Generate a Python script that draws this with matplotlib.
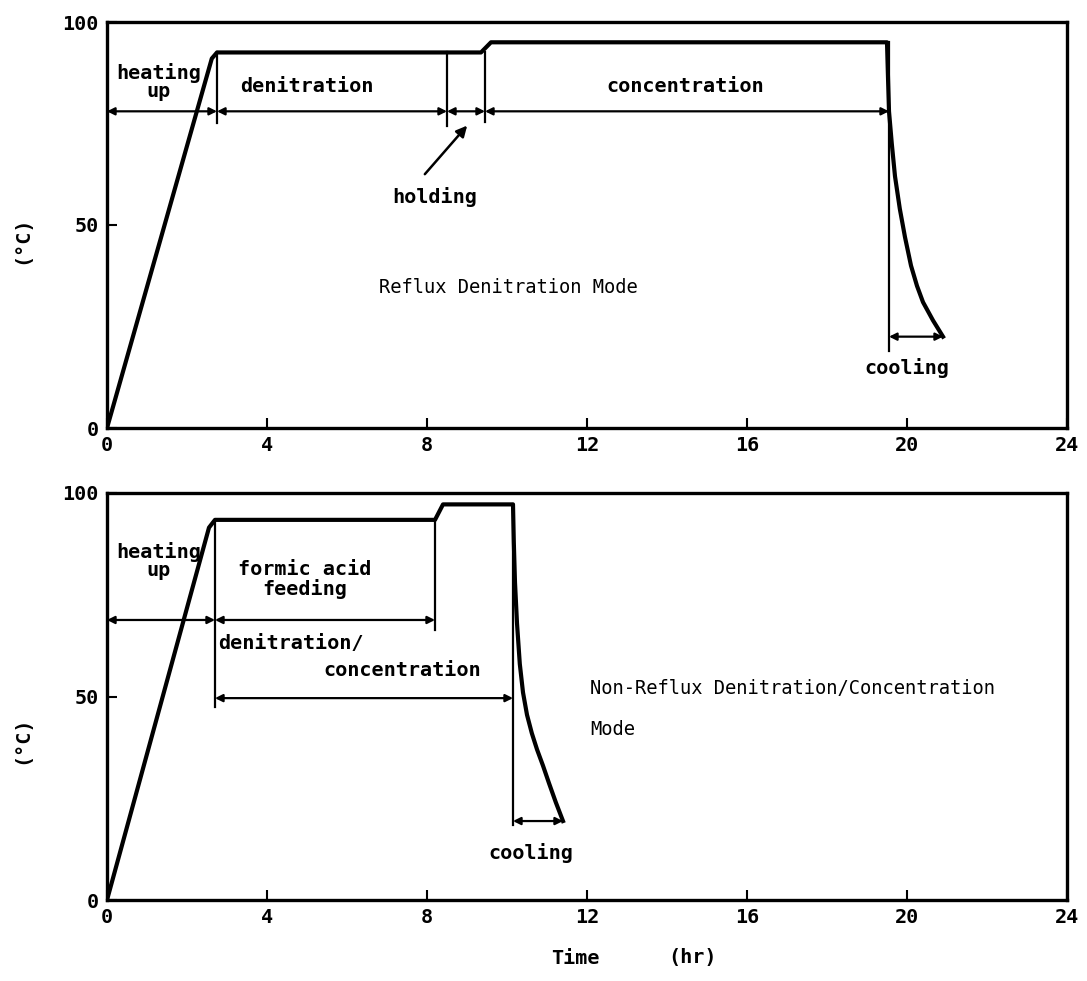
import matplotlib
matplotlib.use("Agg")
import matplotlib.pyplot as plt

plt.rcParams['font.family'] = 'DejaVu Sans Mono'

# reflux denitration mode (top)
t_reflux = [0, 2.62, 2.75, 9.35, 9.6, 19.5, 19.52, 19.55, 19.62, 19.7, 19.82, 19.95,
            20.1, 20.25, 20.4, 20.65, 20.9]
T_reflux = [0, 91, 92.5, 92.5, 95, 95, 88, 78, 70, 62, 54, 47,
            40, 35, 31, 26.5, 22.5]

# non-reflux denitration/concentration mode (bottom)
t_nonreflux = [0, 2.55, 2.7, 8.2, 8.4, 10.15, 10.17, 10.2, 10.25, 10.32, 10.4, 10.5,
               10.62, 10.75, 10.9, 11.05, 11.22, 11.4]
T_nonreflux = [0, 91.5, 93.4, 93.4, 97.2, 97.2, 88, 78, 68, 58, 51, 45.5,
               41, 37, 33, 28.7, 24, 19.4]

xticks = [0, 4, 8, 12, 16, 20, 24]
yticks = [0, 50, 100]

W, H = 1087, 981
fig = plt.figure(figsize=(W / 100, H / 100), dpi=100)
ax1 = fig.add_axes([107 / W, (H - 428) / H, 960 / W, 406 / H])
ax2 = fig.add_axes([107 / W, (H - 900) / H, 960 / W, 407 / H])

fs = 14.5
for ax in (ax1, ax2):
    ax.set_xlim(0, 24)
    ax.set_ylim(0, 100)
    ax.set_xticks(xticks)
    ax.set_yticks(yticks)
    ax.tick_params(direction='in', length=7, width=1.5, labelsize=fs, pad=6)
    for lab in ax.get_xticklabels() + ax.get_yticklabels():
        lab.set_fontweight('bold')
    for s in ax.spines.values():
        s.set_linewidth(2.4)


def span(ax, x0, x1, y):
    ax.annotate('', xy=(x1, y), xytext=(x0, y),
                arrowprops=dict(arrowstyle='<|-|>', lw=1.6, color='black',
                                mutation_scale=11, shrinkA=0, shrinkB=0))


def vline(ax, x, y0, y1):
    ax.plot([x, x], [y0, y1], color='black', lw=1.6)


txt = dict(fontsize=fs, color='black', fontweight='bold')

# top panel
ax1.plot(t_reflux, T_reflux, color='black', lw=3, solid_joinstyle='round')
vline(ax1, 2.75, 92.5, 75)
vline(ax1, 8.5, 92.5, 74.3)
vline(ax1, 9.45, 92.5, 75.3)
vline(ax1, 19.55, 95, 19)
span(ax1, 0, 2.75, 78)
span(ax1, 2.75, 8.5, 78)
span(ax1, 8.5, 9.45, 78)
span(ax1, 9.45, 19.55, 78)
span(ax1, 19.55, 20.9, 22.5)
ax1.text(1.3, 85.2, 'heating\nup', ha='center', va='center', linespacing=0.9, **txt)
ax1.text(5.0, 84.2, 'denitration', ha='center', va='center', **txt)
ax1.text(14.45, 84.2, 'concentration', ha='center', va='center', **txt)
ax1.text(8.2, 56.8, 'holding', ha='center', va='center', **txt)
ax1.annotate('', xy=(9.05, 75), xytext=(7.9, 62),
             arrowprops=dict(arrowstyle='-|>', lw=1.8, color='black', mutation_scale=16))
ax1.text(6.8, 34.6, 'Reflux Denitration Mode', ha='left', va='center', fontsize=fs - 1)
ax1.text(20.0, 14.8, 'cooling', ha='center', va='center', **txt)

# bottom panel
ax2.plot(t_nonreflux, T_nonreflux, color='black', lw=3, solid_joinstyle='round')
vline(ax2, 2.7, 93.4, 47.4)
vline(ax2, 8.2, 93.4, 66.3)
vline(ax2, 10.15, 97.2, 18.4)
span(ax2, 0, 2.7, 68.8)
span(ax2, 2.7, 8.2, 68.8)
span(ax2, 2.7, 10.15, 49.6)
span(ax2, 10.15, 11.4, 19.4)
ax2.text(1.3, 83.3, 'heating\nup', ha='center', va='center', linespacing=0.9, **txt)
ax2.text(4.95, 78.7, 'formic acid\nfeeding', ha='center', va='center', linespacing=1.0, **txt)
ax2.text(2.78, 63, 'denitration/', ha='left', va='center', **txt)
ax2.text(5.4, 56.5, 'concentration', ha='left', va='center', **txt)
ax2.text(12.07, 52, 'Non-Reflux Denitration/Concentration', ha='left', va='center', fontsize=fs - 1)
ax2.text(12.07, 41.8, 'Mode', ha='left', va='center', fontsize=fs - 1)
ax2.text(10.6, 11.5, 'cooling', ha='center', va='center', **txt)

# axis labels
for yc in (240, 740):
    fig.text(22 / W, 1 - yc / H, '(°C)', rotation=90, ha='center', va='center', **txt)
fig.text(575 / W, 1 - 958 / H, 'Time', ha='center', va='center', **txt)
fig.text(693 / W, 1 - 958 / H, '(hr)', ha='center', va='center', **txt)

fig.savefig('out.png', dpi=100)
